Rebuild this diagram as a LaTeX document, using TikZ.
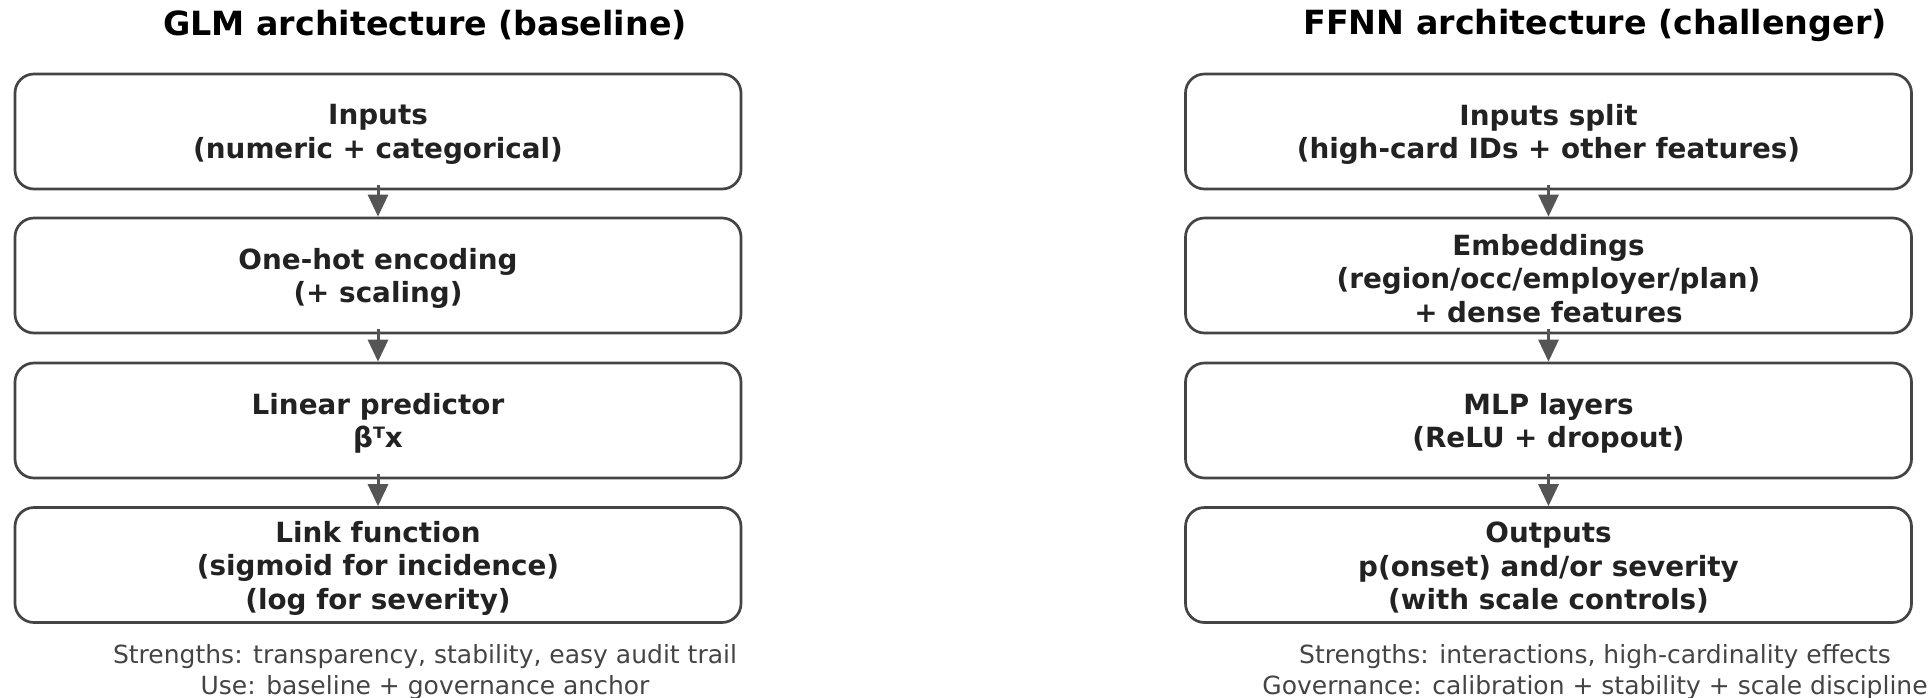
\documentclass[tikz,border=0pt]{standalone}
\usepackage{fontspec}
\setmainfont{DejaVu Sans}
\usetikzlibrary{arrows.meta}

\definecolor{inktext}{HTML}{222222}
\definecolor{boxedge}{HTML}{444444}
\definecolor{flowgray}{HTML}{555555}
\definecolor{notegray}{HTML}{444444}

\tikzset{
  stagebox/.style={draw=boxedge, fill=white, line width=2.7pt, rounded corners=19pt,
    minimum width=726pt, minimum height=115pt, inner sep=0pt},
  stagetext/.style={align=center, text=inktext, inner sep=0pt, yshift=-3pt,
    font=\bfseries\fontsize{27.8}{33.5}\selectfont},
  paneltitle/.style={font=\bfseries\fontsize{33.3}{40}\selectfont, text=black, inner sep=0pt},
  panelnote/.style={font=\fontsize{25}{30.5}\selectfont, text=notegray, align=center, inner sep=0pt},
  flow/.style={draw=flowgray, line width=3pt, -{Triangle[length=22pt,width=20pt]}}
}

\begin{document}
\begin{tikzpicture}[x=1pt,y=-1pt]
\useasboundingbox (0,0) rectangle (1928,697);

% GLM column
\node[paneltitle] (glmtitle) at (425,25) {GLM architecture (baseline)};
\node[stagebox, label={[stagetext, name=g1t]center:{Inputs\\(numeric + categorical)}}] (g1) at (378,131.5) {};
\node[stagebox, label={[stagetext, name=g2t]center:{One-hot encoding\\(+ scaling)}}] (g2) at (378,275.5) {};
\node[stagebox, label={[stagetext, name=g3t]center:{Linear predictor\\βᵀx}}] (g3) at (378,420.5) {};
\node[stagebox, label={[stagetext, name=g4t]center:{Link function\\(sigmoid for incidence)\\(log for severity)}}] (g4) at (378,565) {};
\node[panelnote, yshift=-3pt] (glmnote) at (425,669) {Strengths: transparency, stability, easy audit trail\\Use: baseline + governance anchor};

% FFNN column
\node[paneltitle] (nntitle) at (1595,25) {FFNN architecture (challenger)};
\node[stagebox, label={[stagetext, name=n1t]center:{Inputs split\\(high-card IDs + other features)}}] (n1) at (1548.5,131.5) {};
\node[stagebox, label={[stagetext, name=n2t]center:{Embeddings\\(region/occ/employer/plan)\\+ dense features}}] (n2) at (1548.5,275.5) {};
\node[stagebox, label={[stagetext, name=n3t]center:{MLP layers\\(ReLU + dropout)}}] (n3) at (1548.5,420.5) {};
\node[stagebox, label={[stagetext, name=n4t]center:{Outputs\\p(onset) and/or severity\\(with scale controls)}}] (n4) at (1548.5,565) {};
\node[panelnote, yshift=-3pt] (nnnote) at (1595,669) {Strengths: interactions, high-cardinality effects\\Governance: calibration + stability + scale discipline};

% stage-to-stage arrows
\draw[flow] ([yshift=5pt]g1.south) -- (g2.north);
\draw[flow] ([yshift=5pt]g2.south) -- (g3.north);
\draw[flow] ([yshift=5pt]g3.south) -- (g4.north);
\draw[flow] ([yshift=5pt]n1.south) -- (n2.north);
\draw[flow] ([yshift=5pt]n2.south) -- (n3.north);
\draw[flow] ([yshift=5pt]n3.south) -- (n4.north);
\end{tikzpicture}
\end{document}
